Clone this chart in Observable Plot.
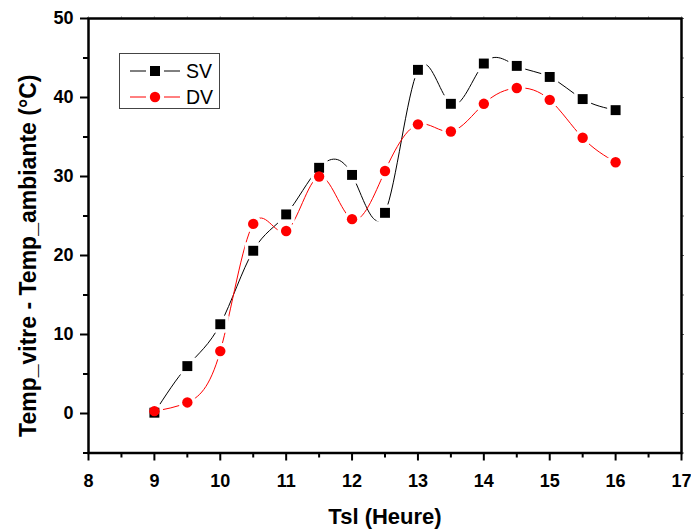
<!DOCTYPE html>
<html>
<head>
<meta charset="utf-8">
<script src="https://cdn.jsdelivr.net/npm/d3@7"></script>
<script src="https://cdn.jsdelivr.net/npm/@observablehq/plot@0.6"></script>
<style>
  html, body { margin: 0; padding: 0; background: #fff; }
  #wrap { position: relative; width: 691px; height: 532px; font-family: "Liberation Sans", Arial, sans-serif; }
  #legend { position: absolute; left: 119px; top: 53px; width: 101px; height: 56px; border: 1px solid #444; background: #fff; box-sizing: border-box; }
  #legend .row { position: absolute; left: 0; height: 26px; display: flex; align-items: center; }
  #legend .lab { font-size: 19.5px; }
</style>
</head>
<body>
<div id="wrap"></div>
<script>
const hours = [9, 9.5, 10, 10.5, 11, 11.5, 12, 12.5, 13, 13.5, 14, 14.5, 15, 15.5, 16];
const sv = [0.1, 6.0, 11.3, 20.6, 25.2, 31.1, 30.2, 25.4, 43.5, 39.2, 44.3, 44.0, 42.6, 39.8, 38.4];
const dv = [0.3, 1.4, 7.9, 24.0, 23.1, 30.0, 24.6, 30.7, 36.6, 35.7, 39.2, 41.2, 39.7, 34.9, 31.8];
const seriesNames = ["SV", "DV"];
const xMajor = [8, 9, 10, 11, 12, 13, 14, 15, 16, 17];
const xMinor = [8.5, 9.5, 10.5, 11.5, 12.5, 13.5, 14.5, 15.5, 16.5];
const yMajor = [0, 10, 20, 30, 40, 50];
const yMinor = [-5, 5, 15, 25, 35, 45];
const xTitle = "Tsl (Heure)";
const yTitle = "Temp_vitre - Temp_ambiante (°C)";

const svData = hours.map((h, i) => ({h, v: sv[i]}));
const dvData = hours.map((h, i) => ({h, v: dv[i]}));

const font = "Liberation Sans, Arial, sans-serif";

const chart = Plot.plot({
  width: 691,
  height: 532,
  marginLeft: 88,
  marginRight: 10,
  marginTop: 18,
  marginBottom: 79.5,
  style: {fontFamily: font, background: "#fff", overflow: "visible"},
  x: {domain: [8, 17]},
  y: {domain: [-5, 50]},
  marks: [
    Plot.line(svData, {x: "h", y: "v", curve: "natural", stroke: "#000", strokeWidth: 1}),
    Plot.line(dvData, {x: "h", y: "v", curve: "natural", stroke: "#ff0000", strokeWidth: 1}),
    // white halos (gaps between line and markers)
    Plot.dot(svData, {x: "h", y: "v", symbol: "square", r: 5.6, fill: "#fff", stroke: "#fff", strokeWidth: 7}),
    Plot.dot(dvData, {x: "h", y: "v", symbol: "circle", r: 5.2, fill: "#fff", stroke: "#fff", strokeWidth: 7}),
    Plot.dot(svData, {x: "h", y: "v", symbol: "square", r: 5.6, fill: "#000"}),
    Plot.dot(dvData, {x: "h", y: "v", symbol: "circle", r: 5.2, fill: "#ff0000"}),
    Plot.axisX({ticks: xMajor, tickSize: 8, tickPadding: 13, tickFormat: d => d, fontSize: 18, fontWeight: "bold", label: null, strokeWidth: 2}),
    Plot.axisX({ticks: xMinor, tickSize: 5, tickFormat: () => "", label: null, strokeWidth: 2}),
    Plot.axisX({anchor: "top", ticks: xMajor.concat(xMinor), tickSize: 3, tickFormat: () => "", label: null, stroke: "#bbb"}),
    Plot.axisY({ticks: yMajor, tickSize: 8, tickPadding: 7, tickFormat: d => d, fontSize: 18, fontWeight: "bold", label: null, strokeWidth: 2}),
    Plot.axisY({ticks: yMinor, tickSize: 5, tickFormat: () => "", label: null, strokeWidth: 2}),
    Plot.axisY({anchor: "right", ticks: yMajor.concat(yMinor), tickSize: 2, tickFormat: () => "", label: null, stroke: "#666"}),
    Plot.frame({stroke: "#000", strokeWidth: 2.5}),
    Plot.text([xTitle], {text: d => d, frameAnchor: "bottom", dy: 71, fontSize: 22, fontWeight: "bold"}),
    Plot.text([yTitle], {text: d => d, frameAnchor: "left", textAnchor: "middle", rotate: -90, dx: -60, dy: 20, fontSize: 23, fontWeight: "bold"})
  ]
});

const wrap = document.getElementById("wrap");
wrap.appendChild(chart);

// Legend
const legend = document.createElement("div");
legend.id = "legend";
const colors = ["#000", "#ff0000"];
seriesNames.forEach((name, i) => {
  const row = document.createElement("div");
  row.className = "row";
  row.style.top = (i === 0 ? 4 : 30) + "px";
  const sym = i === 0
    ? `<rect x="20" y="7" width="10" height="10" fill="#000"/>`
    : `<circle cx="25" cy="12" r="5.2" fill="#ff0000"/>`;
  row.innerHTML = `<svg width="56" height="24" style="margin-left:10px">
      <line x1="0" x2="16" y1="12" y2="12" stroke="${colors[i]}" stroke-width="1"/>
      <line x1="34" x2="50" y1="12" y2="12" stroke="${colors[i]}" stroke-width="1"/>
      ${sym}
    </svg><span class="lab">${name}</span>`;
  legend.appendChild(row);
});
wrap.appendChild(legend);
</script>
</body>
</html>
